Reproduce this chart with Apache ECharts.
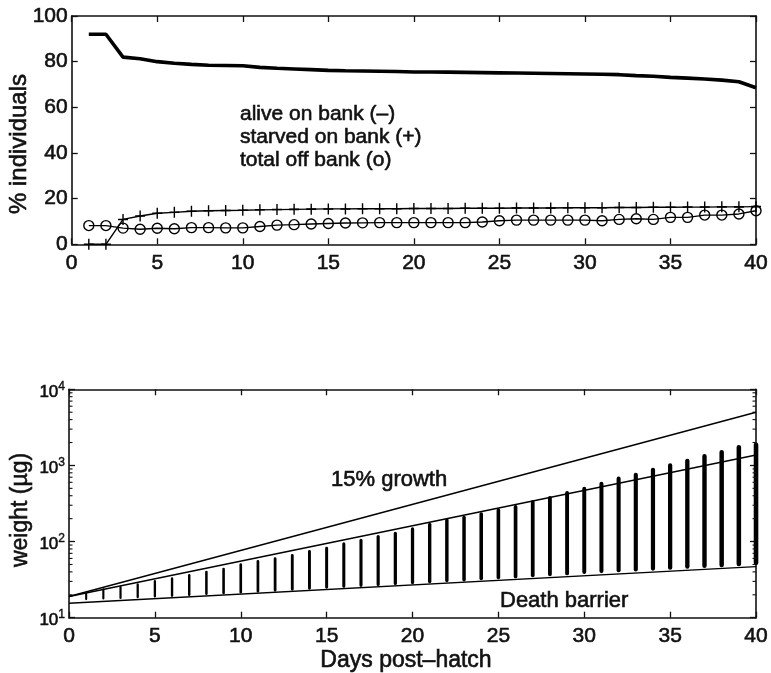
<!DOCTYPE html>
<html>
<head>
<meta charset="utf-8">
<script src="https://cdn.jsdelivr.net/npm/echarts@6/dist/echarts.min.js"></script>
<style>
  html, body { margin: 0; padding: 0; background: #fff; }
  #chart { width: 771px; height: 673px; }
</style>
</head>
<body>
<div id="chart"></div>
<script>
// ---- upper panel: fate of individuals (% of cohort) ----
const days = [1, 2, 3, 4, 5, 6, 7, 8, 9, 10, 11, 12, 13, 14, 15, 16, 17, 18, 19, 20,
              21, 22, 23, 24, 25, 26, 27, 28, 29, 30, 31, 32, 33, 34, 35, 36, 37, 38, 39, 40];
const aliveOnBank = [92, 92, 82, 81.3, 80, 79.3, 78.8, 78.4, 78.3, 78.2, 77.5, 77.1, 76.8, 76.5, 76.2, 76.0,
                     75.9, 75.8, 75.7, 75.5, 75.5, 75.4, 75.3, 75.2, 75.1, 75.0, 74.9, 74.8, 74.7, 74.6,
                     74.5, 74.3, 73.9, 73.6, 73.1, 72.8, 72.4, 71.9, 71.2, 68.6];
const starvedOnBank = [0, 0, 10.9, 12.4, 13.6, 14.0, 14.5, 14.7, 14.8, 14.9, 15.1, 15.2, 15.3, 15.4, 15.5, 15.5,
                       15.6, 15.6, 15.6, 15.7, 15.7, 15.7, 15.8, 15.8, 15.8, 15.9, 15.9, 15.9, 16.0, 16.0,
                       16.0, 16.1, 16.1, 16.2, 16.2, 16.3, 16.3, 16.4, 16.4, 16.5];
const totalOffBank = [8.2, 8.2, 7.1, 6.6, 7.0, 6.8, 7.3, 7.3, 7.2, 7.2, 7.8, 8.4, 8.6, 8.9, 9.1, 9.3,
                      9.4, 9.5, 9.5, 9.5, 9.5, 9.5, 9.5, 9.8, 10.3, 10.6, 10.6, 10.6, 10.6, 10.6,
                      10.3, 10.9, 11.2, 10.9, 11.8, 11.8, 12.8, 12.8, 13.3, 14.7];
const pctTicks = [0, 20, 40, 60, 80, 100];
const dayTicks = [0, 5, 10, 15, 20, 25, 30, 35, 40];

// ---- lower panel: weight of survivors (µg, log scale) ----
const weightHigh = [21.3, 24.3, 26.1, 28.3, 31.3, 34.0, 37.5, 41.5, 45.4, 51.9, 57.3, 62.2, 68.7, 77.6, 85.7, 97.9,
                    109, 122, 135, 154, 177, 202, 219, 243, 274, 303, 352, 397, 462, 526,
                    612, 713, 804, 935, 1069, 1228, 1416, 1600, 1858, 2000];
const weightLow = [17.0, 17.3, 17.6, 18.0, 18.4, 18.8, 19.3, 19.8, 20.3, 20.8, 21.4, 22.0, 22.6, 23.3, 24.0, 24.7,
                   25.4, 26.1, 26.8, 27.6, 28.4, 29.2, 30.0, 31.0, 32.0, 33.0, 34.0, 35.0, 36.0, 37.5,
                   38.5, 39.5, 40.5, 41.5, 42.5, 44.0, 45.0, 46.0, 47.5, 49.0];
const growth15 = [[0, 19], [40, 5000]];
const medianGrowth = [[0, 19], [40, 1370]];
const deathBarrier = [[0, 15.5], [40, 46.8]];
const weightTicks = [10, 100, 1000, 10000];

const INK = '#111';
const NUM_FONT = 'Liberation Sans';
const HALO = 0.6;   // slight stroke to give the glyphs a heavier print weight

const chart = echarts.init(document.getElementById('chart'), null, { renderer: 'canvas' });

function dayAxis(grid, pos, labels) {
  return {
    type: 'value', gridIndex: grid, position: pos, min: 0, max: 40, interval: 5,
    axisLine: { show: true, onZero: false, lineStyle: { color: INK, width: 1.6 } },
    axisTick: { show: true, inside: true, length: 6, lineStyle: { color: INK, width: 1.3 },
                customValues: dayTicks },
    axisLabel: { show: labels, color: INK, fontFamily: NUM_FONT, fontSize: 21, margin: 8,
                 textBorderColor: INK, textBorderWidth: HALO, customValues: dayTicks },
    splitLine: { show: false }
  };
}

// log-scale minor tick positions (2..9 per decade)
const minorTickValues = [];
for (let k = 0; k < weightTicks.length - 1; k++) {
  for (let m = 2; m <= 9; m++) minorTickValues.push(weightTicks[k] * m);
}

function label(text, x, y, size, rot) {
  return {
    type: 'text', x: x, y: y, rotation: rot || 0,
    style: { text: text, font: size + 'px "Liberation Sans"', fill: INK,
             stroke: INK, lineWidth: HALO,
             align: rot ? 'center' : (text === 'Days post\u2013hatch' ? 'center' : 'left'),
             verticalAlign: 'middle' }
  };
}

const option = {
  animation: false,
  backgroundColor: '#fff',
  grid: [
    { left: 71.7, top: 16, width: 686, height: 228.3 },
    { left: 69, top: 389.3, width: 687.7, height: 228.4 }
  ],
  xAxis: [
    dayAxis(0, 'bottom', true),
    dayAxis(0, 'top', false),
    dayAxis(1, 'bottom', true),
    dayAxis(1, 'top', false)
  ],
  yAxis: [
    {
      type: 'value', gridIndex: 0, position: 'left', min: 0, max: 100, interval: 20,
      axisLine: { show: true, onZero: false, lineStyle: { color: INK, width: 1.6 } },
      axisTick: { show: true, inside: true, length: 6, lineStyle: { color: INK, width: 1.3 } },
      axisLabel: { color: INK, fontFamily: NUM_FONT, fontSize: 21, margin: 4,
                   textBorderColor: INK, textBorderWidth: HALO, customValues: pctTicks },
      splitLine: { show: false }
    },
    {
      type: 'value', gridIndex: 0, position: 'right', min: 0, max: 100, interval: 20,
      axisLine: { show: true, onZero: false, lineStyle: { color: INK, width: 1.6 } },
      axisTick: { show: true, inside: true, length: 6, lineStyle: { color: INK, width: 1.3 } },
      axisLabel: { show: false },
      splitLine: { show: false }
    },
    {
      type: 'log', logBase: 10, gridIndex: 1, position: 'left', min: 10, max: 10000,
      axisLine: { show: true, onZero: false, lineStyle: { color: INK, width: 1.6 } },
      axisTick: { show: true, inside: true, length: 6, lineStyle: { color: INK, width: 1.3 },
                  customValues: weightTicks },
      axisLabel: {
        color: INK, margin: 4, customValues: weightTicks,
        formatter: v => '{b|10}{s|' + Math.round(Math.log10(v)) + '}',
        rich: {
          b: { fontFamily: NUM_FONT, fontSize: 17, color: INK, padding: [6, 0, 0, 0],
               textBorderColor: INK, textBorderWidth: HALO },
          s: { fontFamily: NUM_FONT, fontSize: 12, color: INK, padding: [0, 0, 6, 0],
               textBorderColor: INK, textBorderWidth: 0.4 }
        }
      },
      splitLine: { show: false }
    },
    {
      type: 'log', logBase: 10, gridIndex: 1, position: 'right', min: 10, max: 10000,
      axisLine: { show: true, onZero: false, lineStyle: { color: INK, width: 1.6 } },
      axisTick: { show: true, inside: true, length: 6, lineStyle: { color: INK, width: 1.3 },
                  customValues: weightTicks },
      axisLabel: { show: false },
      splitLine: { show: false }
    }
  ],
  series: [
    {
      name: 'alive on bank', type: 'line', xAxisIndex: 0, yAxisIndex: 0,
      data: days.map((d, i) => [d, aliveOnBank[i]]),
      showSymbol: false, lineStyle: { color: '#000', width: 3.6 }, z: 5
    },
    {
      name: 'starved on bank', type: 'line', xAxisIndex: 0, yAxisIndex: 0,
      data: days.map((d, i) => [d, starvedOnBank[i]]),
      symbol: 'path://M4.3,0h1.4v10h-1.4z M0,4.3h10v1.4h-10z', symbolSize: [10, 11],
      itemStyle: { color: '#000' }, lineStyle: { color: '#000', width: 1.4 }
    },
    {
      name: 'total off bank', type: 'line', xAxisIndex: 0, yAxisIndex: 0,
      data: days.map((d, i) => [d, totalOffBank[i]]),
      symbol: 'circle', symbolSize: 10,
      itemStyle: { color: 'rgba(0,0,0,0)', borderColor: '#000', borderWidth: 1.4 },
      lineStyle: { color: '#000', width: 1.4 }
    },
    {
      name: 'weights', type: 'custom', xAxisIndex: 2, yAxisIndex: 2,
      data: days.map((d, i) => [d, weightLow[i], weightHigh[i]]),
      renderItem: (params, api) => {
        const d = api.value(0);
        const top = api.coord([d, api.value(2)]);
        const bot = api.coord([d, api.value(1)]);
        const w = 2 + 2.6 * d / 40;
        return {
          type: 'rect',
          shape: { x: top[0] - w / 2, y: top[1], width: w, height: bot[1] - top[1], r: w / 2 },
          style: { fill: '#000' }
        };
      }
    },
    {
      name: '15% growth', type: 'line', xAxisIndex: 2, yAxisIndex: 2, data: growth15,
      showSymbol: false, lineStyle: { color: '#000', width: 1.4 }
    },
    {
      name: 'median growth', type: 'line', xAxisIndex: 2, yAxisIndex: 2, data: medianGrowth,
      showSymbol: false, lineStyle: { color: '#000', width: 1.4 }
    },
    {
      name: 'Death barrier', type: 'line', xAxisIndex: 2, yAxisIndex: 2, data: deathBarrier,
      showSymbol: false, lineStyle: { color: '#000', width: 1.4 }
    },
    {
      // minor ticks of the log axis, on both the left and right frame edges
      name: 'minor ticks', type: 'custom', xAxisIndex: 2, yAxisIndex: 2, silent: true,
      data: minorTickValues.map(v => [0, v]),
      renderItem: (params, api) => {
        const l = api.coord([0, api.value(1)]);
        const r = api.coord([40, api.value(1)]);
        return {
          type: 'group',
          children: [
            { type: 'line', shape: { x1: l[0], y1: l[1], x2: l[0] + 3.5, y2: l[1] },
              style: { stroke: INK, lineWidth: 1.1 } },
            { type: 'line', shape: { x1: r[0], y1: r[1], x2: r[0] - 3.5, y2: r[1] },
              style: { stroke: INK, lineWidth: 1.1 } }
          ]
        };
      }
    }
  ],
  graphic: [
    label('% individuals', 19.5, 144, 24, Math.PI / 2),
    label('weight (\u00b5g)', 21, 510, 23, Math.PI / 2),
    label('Days post\u2013hatch', 406, 661, 23),
    label('alive on bank (\u2013)', 240, 114, 21),
    label('starved on bank (+)', 240, 137, 21),
    label('total off bank (o)', 240, 160, 21),
    label('15% growth', 331, 480, 22),
    label('Death barrier', 500, 601, 22)
  ]
};

chart.setOption(option);
</script>
</body>
</html>
